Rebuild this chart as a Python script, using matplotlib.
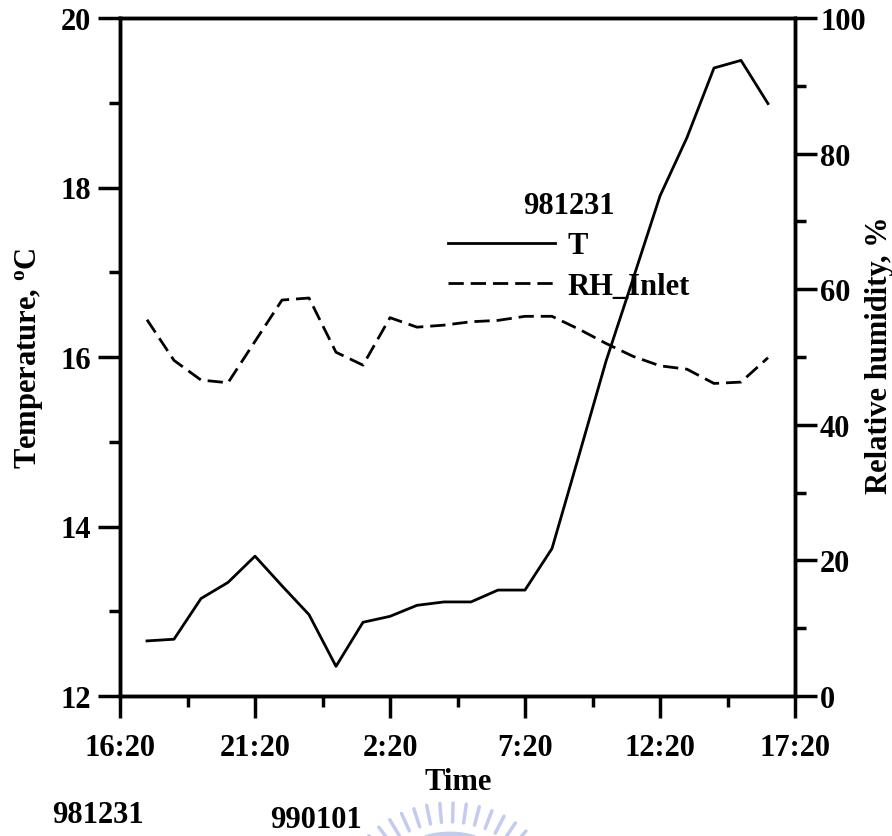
import numpy as np
import matplotlib
matplotlib.use('Agg')
import matplotlib.pyplot as plt
from matplotlib.ticker import MultipleLocator

# hourly readings, 981231 17:20 -> 990101 16:20
times = ['17:20', '18:20', '19:20', '20:20', '21:20', '22:20', '23:20', '0:20',
         '1:20', '2:20', '3:20', '4:20', '5:20', '6:20', '7:20', '8:20',
         '9:20', '10:20', '11:20', '12:20', '13:20', '14:20', '15:20', '16:20']
temp = [12.65, 12.67, 13.15, 13.34, 13.65, 13.30, 12.96, 12.35,
        12.87, 12.94, 13.07, 13.11, 13.11, 13.25, 13.25, 13.74,
        14.84, 15.95, 16.92, 17.90, 18.59, 19.41, 19.50, 18.99]
rh_inlet = [55.5, 49.5, 46.6, 46.2, 52.3, 58.4, 58.7, 50.7,
            48.8, 55.8, 54.4, 54.7, 55.2, 55.4, 56.0, 56.0,
            54.1, 52.0, 50.1, 48.7, 48.2, 46.1, 46.3, 49.9]
x_ticklabels = ['16:20', '21:20', '2:20', '7:20', '12:20', '17:20']
start_time = '16:20'


def elapsed_hours(labels, start):
    h0, m0 = map(int, start.split(':'))
    out = []
    prev = -1
    for lab in labels:
        h, m = map(int, lab.split(':'))
        e = (h + m / 60.) - (h0 + m0 / 60.)
        while e <= prev:
            e += 24
        out.append(e)
        prev = e
    return out


plt.rcParams['font.family'] = 'Liberation Serif'
plt.rcParams['font.weight'] = 'bold'
plt.rcParams['mathtext.fontset'] = 'custom'
plt.rcParams['mathtext.rm'] = 'Liberation Serif:bold'
plt.rcParams['mathtext.bf'] = 'Liberation Serif:bold'
plt.rcParams['mathtext.it'] = 'Liberation Serif:bold'

W, H = 892, 837
fs = 22
fig = plt.figure(figsize=(W / 100, H / 100), dpi=100)

# faint watermark at the bottom
bg = fig.add_axes([0, 0, 1, 1], zorder=-5)
bg.set_xlim(0, W)
bg.set_ylim(H, 0)
bg.axis('off')
wm_color = '#c3cbef'
cx, cy = 450, 921
for ang in np.arange(200, 341, 6.5):
    a = np.deg2rad(ang)
    bg.plot([cx + 98 * np.cos(a), cx + 117 * np.cos(a)],
            [cy + 98 * np.sin(a), cy + 117 * np.sin(a)],
            color=wm_color, lw=2.5, solid_capstyle='round')
arc = np.deg2rad(np.linspace(205, 335, 80))
bg.plot(cx + 86 * np.cos(arc), cy + 86 * np.sin(arc), color=wm_color, lw=3.5)

ax = fig.add_axes([120 / W, 140 / H, 675 / W, 678 / H])
ax2 = ax.twinx()

x = elapsed_hours(times, start_time)
l1, = ax.plot(x, temp, color='black', lw=2, label='T')
l2, = ax2.plot(x, rh_inlet, color='black', lw=2, dashes=(5.5, 2.5), label='RH_Inlet')

ax.set_xlim(0, 25)
ax.set_ylim(12, 20)
ax2.set_ylim(0, 100)

ax.set_xticks(np.arange(0, 26, 5))
ax.set_xticklabels(x_ticklabels)
ax.xaxis.set_minor_locator(MultipleLocator(2.5))
ax.yaxis.set_major_locator(MultipleLocator(2))
ax.yaxis.set_minor_locator(MultipleLocator(1))
ax2.yaxis.set_major_locator(MultipleLocator(20))
ax2.yaxis.set_minor_locator(MultipleLocator(10))

for a in (ax, ax2):
    for s in a.spines.values():
        s.set_linewidth(2.5)
    a.tick_params(which='major', length=16, width=2.5, direction='out', labelsize=fs, pad=5)
    a.tick_params(which='minor', length=8, width=2.5, direction='out')
ax.tick_params(axis='x', which='both', top=False)
ax.tick_params(axis='x', pad=11)
ax2.tick_params(axis='y', pad=2)

fig.text(458 / W, 1 - 783 / H, 'Time', ha='center', va='center', fontsize=fs)
fig.text(29 / W, 1 - 358 / H, r'Temperature, $^{\rm o}$C', rotation=90,
         ha='center', va='center', fontsize=fs)
fig.text(879 / W, 1 - 355 / H, 'Relative humidity, %', rotation=90,
         ha='center', va='center', fontsize=fs)

leg = ax.legend([l1, l2], ['T', 'RH_Inlet'], title='981231', frameon=False,
                loc='center', bbox_to_anchor=(0.665, 0.664), fontsize=fs,
                title_fontsize=fs, handlelength=3.5, handletextpad=0.4,
                labelspacing=0.38, borderaxespad=0)
leg.get_title().set_fontweight('bold')

fig.text(52 / W, 1 - 816 / H, '981231', ha='left', va='center', fontsize=fs)
fig.text(270 / W, 1 - 821 / H, '990101', ha='left', va='center', fontsize=fs)

fig.savefig('out.png', dpi=100)
